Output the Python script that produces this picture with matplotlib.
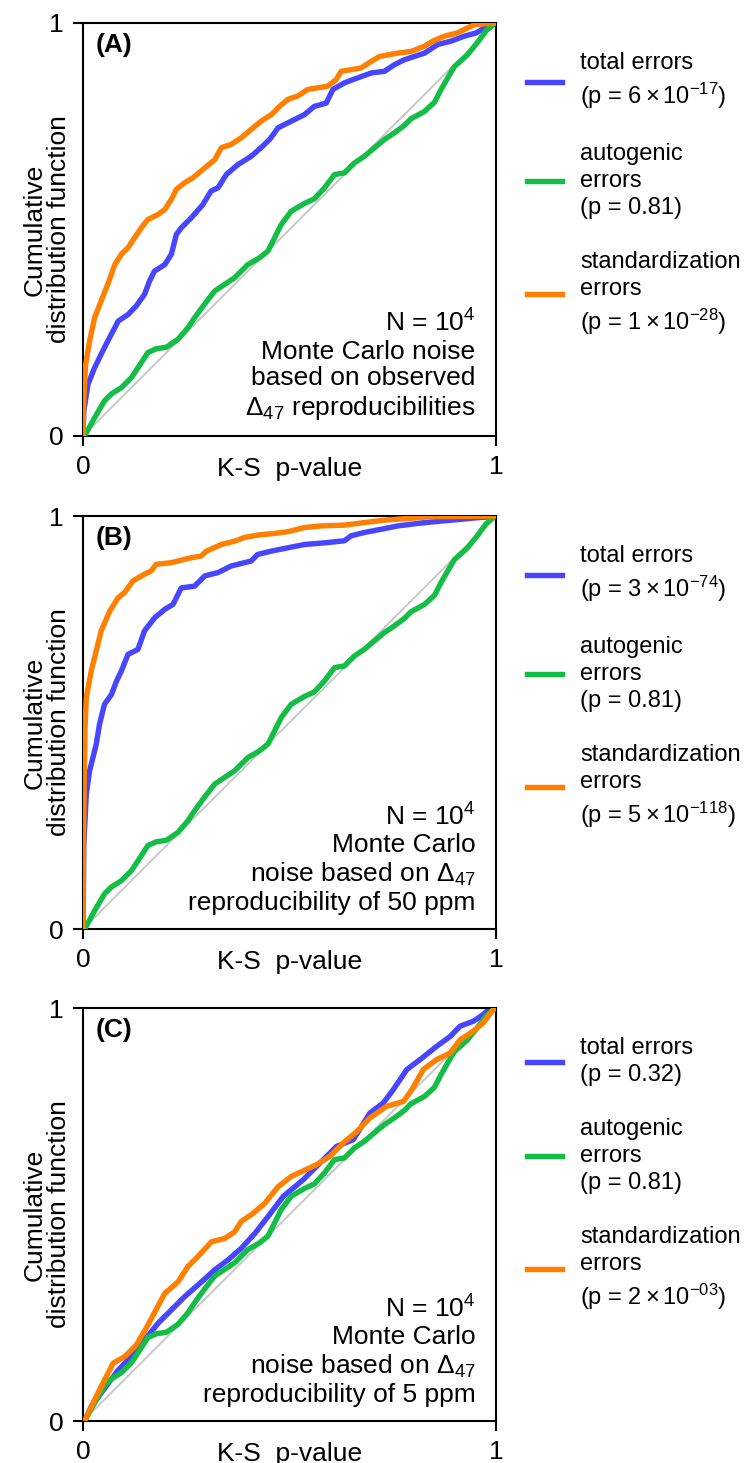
import matplotlib
matplotlib.use("Agg")
import matplotlib.pyplot as plt

plt.rcParams['font.family'] = ['Liberation Sans', 'DejaVu Sans']
plt.rcParams['mathtext.fontset'] = 'custom'
plt.rcParams['mathtext.rm'] = 'Liberation Sans'
plt.rcParams['mathtext.it'] = 'Liberation Sans:italic'
plt.rcParams['mathtext.bf'] = 'Liberation Sans:bold'

# ---- autogenic errors (identical in all three panels) ----
auto_x = [0.004, 0.028, 0.052, 0.069, 0.093, 0.117, 0.133, 0.157, 0.177, 0.202,
          0.230, 0.254, 0.270, 0.294, 0.319, 0.343, 0.367, 0.399, 0.427, 0.448,
          0.464, 0.480, 0.504, 0.536, 0.560, 0.585, 0.609, 0.633, 0.657, 0.681,
          0.706, 0.730, 0.754, 0.778, 0.794, 0.827, 0.851, 0.867, 0.883, 0.899,
          0.931, 0.956, 0.976, 0.996, 1.0]
auto_y = [0.0, 0.044, 0.085, 0.102, 0.117, 0.141, 0.165, 0.202, 0.211, 0.215,
          0.234, 0.262, 0.286, 0.319, 0.351, 0.367, 0.383, 0.415, 0.431, 0.448,
          0.480, 0.512, 0.544, 0.563, 0.574, 0.601, 0.633, 0.637, 0.661, 0.677,
          0.698, 0.718, 0.734, 0.752, 0.768, 0.786, 0.808, 0.839, 0.867, 0.894,
          0.923, 0.954, 0.981, 0.998, 1.0]

# ---- panel A: observed reproducibilities ----
a_total_x = [0.0, 0.002, 0.012, 0.028, 0.044, 0.060, 0.077, 0.085, 0.109, 0.129,
             0.149, 0.161, 0.173, 0.198, 0.214, 0.226, 0.238, 0.262, 0.290, 0.310,
             0.327, 0.347, 0.375, 0.407, 0.431, 0.452, 0.472, 0.504, 0.536, 0.560,
             0.589, 0.605, 0.633, 0.665, 0.698, 0.730, 0.754, 0.778, 0.827, 0.859,
             0.891, 0.923, 0.952, 0.972, 1.0]
a_total_y = [0.0, 0.060, 0.125, 0.165, 0.198, 0.230, 0.262, 0.278, 0.294, 0.315,
             0.343, 0.375, 0.399, 0.415, 0.440, 0.488, 0.504, 0.528, 0.560, 0.593,
             0.601, 0.633, 0.657, 0.677, 0.698, 0.718, 0.746, 0.762, 0.778, 0.798,
             0.806, 0.839, 0.855, 0.867, 0.879, 0.883, 0.899, 0.911, 0.927, 0.948,
             0.956, 0.968, 0.976, 0.988, 1.0]
a_std_x = [0.0, 0.002, 0.006, 0.016, 0.028, 0.044, 0.060, 0.077, 0.093, 0.109,
           0.125, 0.141, 0.157, 0.181, 0.198, 0.214, 0.226, 0.246, 0.266, 0.290,
           0.319, 0.335, 0.359, 0.383, 0.407, 0.431, 0.456, 0.476, 0.496, 0.520,
           0.544, 0.593, 0.613, 0.625, 0.673, 0.698, 0.718, 0.762, 0.794, 0.827,
           0.847, 0.875, 0.907, 0.931, 0.948, 1.0]
a_std_y = [0.0, 0.090, 0.170, 0.230, 0.286, 0.327, 0.367, 0.415, 0.440, 0.456,
           0.480, 0.504, 0.524, 0.536, 0.548, 0.573, 0.597, 0.613, 0.625, 0.645,
           0.669, 0.698, 0.706, 0.722, 0.742, 0.762, 0.778, 0.798, 0.815, 0.823,
           0.839, 0.847, 0.863, 0.883, 0.891, 0.907, 0.919, 0.927, 0.931, 0.944,
           0.956, 0.968, 0.976, 0.988, 0.996, 1.0]

# ---- panel B: 50 ppm reproducibility ----
b_total_x = [0.0, 0.001, 0.002, 0.008, 0.016, 0.032, 0.040, 0.052, 0.069, 0.081,
             0.093, 0.109, 0.133, 0.149, 0.174, 0.198, 0.218, 0.238, 0.270, 0.295,
             0.327, 0.359, 0.375, 0.407, 0.423, 0.456, 0.496, 0.536, 0.585, 0.633,
             0.649, 0.681, 0.722, 0.762, 0.810, 0.859, 0.915, 0.956, 0.988, 1.0]
b_total_y = [0.0, 0.085, 0.205, 0.326, 0.383, 0.447, 0.496, 0.544, 0.568, 0.600,
             0.625, 0.665, 0.677, 0.722, 0.754, 0.774, 0.786, 0.826, 0.830, 0.855,
             0.863, 0.879, 0.883, 0.891, 0.907, 0.915, 0.923, 0.931, 0.935, 0.940,
             0.952, 0.960, 0.968, 0.976, 0.982, 0.987, 0.992, 0.996, 0.998, 1.0]
b_std_x = [0.0, 0.001, 0.003, 0.005, 0.008, 0.020, 0.032, 0.044, 0.065, 0.085,
           0.101, 0.121, 0.149, 0.165, 0.177, 0.214, 0.262, 0.286, 0.299, 0.335,
           0.367, 0.391, 0.423, 0.456, 0.496, 0.536, 0.577, 0.633, 0.681, 0.730,
           0.786, 0.835, 1.0]
b_std_y = [0.0, 0.200, 0.370, 0.490, 0.560, 0.625, 0.673, 0.722, 0.770, 0.802,
           0.815, 0.843, 0.859, 0.867, 0.883, 0.887, 0.899, 0.903, 0.915, 0.931,
           0.939, 0.948, 0.954, 0.957, 0.962, 0.972, 0.976, 0.978, 0.984, 0.990,
           0.994, 0.998, 1.0]

# ---- panel C: 5 ppm reproducibility ----
c_total_x = [0.004, 0.020, 0.061, 0.085, 0.117, 0.149, 0.182, 0.214, 0.246, 0.278,
             0.319, 0.351, 0.383, 0.416, 0.448, 0.485, 0.533, 0.574, 0.614, 0.654,
             0.695, 0.727, 0.751, 0.784, 0.816, 0.856, 0.889, 0.913, 0.945, 0.969,
             0.985, 1.0]
c_total_y = [0.0, 0.035, 0.091, 0.123, 0.156, 0.196, 0.237, 0.269, 0.301, 0.329,
             0.366, 0.390, 0.418, 0.454, 0.495, 0.544, 0.584, 0.625, 0.665, 0.681,
             0.746, 0.770, 0.802, 0.851, 0.875, 0.907, 0.931, 0.956, 0.968, 0.984,
             1.0, 1.0]
c_std_x = [0.004, 0.028, 0.052, 0.073, 0.101, 0.129, 0.157, 0.198, 0.230, 0.254,
           0.278, 0.311, 0.343, 0.367, 0.383, 0.412, 0.440, 0.472, 0.504, 0.521,
           0.566, 0.598, 0.630, 0.663, 0.695, 0.735, 0.776, 0.796, 0.824, 0.856,
           0.889, 0.913, 0.945, 0.969, 0.993, 1.0]
c_std_y = [0.0, 0.051, 0.099, 0.140, 0.156, 0.184, 0.232, 0.309, 0.337, 0.374,
           0.398, 0.434, 0.442, 0.458, 0.483, 0.503, 0.527, 0.567, 0.592, 0.600,
           0.621, 0.641, 0.673, 0.701, 0.734, 0.762, 0.774, 0.802, 0.851, 0.875,
           0.891, 0.923, 0.944, 0.964, 0.996, 1.0]

panel_tags = ['(A)', '(B)', '(C)']
total_p = [r'$6\times10^{-17}$', r'$3\times10^{-74}$', '0.32']
auto_p = ['0.81', '0.81', '0.81']
std_p = [r'$1\times10^{-28}$', r'$5\times10^{-118}$', r'$2\times10^{-03}$']
notes = [
    'N = 10$^4$\nMonte Carlo noise\nbased on observed\nΔ$_{47}$ reproducibilities',
    'N = 10$^4$\nMonte Carlo\nnoise based on Δ$_{47}$\nreproducibility of 50 ppm',
    'N = 10$^4$\nMonte Carlo\nnoise based on Δ$_{47}$\nreproducibility of 5 ppm',
]
total_curves = [(a_total_x, a_total_y), (b_total_x, b_total_y), (c_total_x, c_total_y)]
std_curves = [(a_std_x, a_std_y), (b_std_x, b_std_y), (c_std_x, c_std_y)]

BLUE = '#4646ff'
GREEN = '#14bd46'
ORANGE = '#ff8000'
FS = 19
LW = 3.9

fig = plt.figure(figsize=(7.45, 14.63), dpi=100)
ax_left, ax_w, ax_h = 0.1114, 0.5544, 0.2823
bottoms = [0.7020, 0.3650, 0.0287]

for i in range(3):
    ax = fig.add_axes([ax_left, bottoms[i], ax_w, ax_h])
    ax.plot([0, 1], [0, 1], color='#c4c4c4', lw=1.3, zorder=1)
    tx, ty = total_curves[i]
    sx, sy = std_curves[i]
    ax.plot(tx, ty, color=BLUE, lw=LW, zorder=2,
            label='total errors\n(p = ' + total_p[i] + ')')
    ax.plot(auto_x, auto_y, color=GREEN, lw=LW, zorder=3,
            label='autogenic\nerrors\n(p = ' + auto_p[i] + ')')
    ax.plot(sx, sy, color=ORANGE, lw=LW, zorder=4,
            label='standardization\nerrors\n(p = ' + std_p[i] + ')')

    ax.set_xlim(0, 1)
    ax.set_ylim(0, 1)
    ax.set_xticks([0, 1])
    ax.set_yticks([0, 1])
    ax.set_xticklabels(['0', '1'])
    ax.set_yticklabels(['0', '1'])
    ax.tick_params(direction='out', length=7, width=1.5, pad=7, labelsize=FS)
    for sp in ax.spines.values():
        sp.set_linewidth(1.5)

    ax.set_xlabel('K-S  p-value', fontsize=FS)
    ax.xaxis.set_label_coords(0.5, -0.052)
    ax.set_ylabel('Cumulative\ndistribution function', fontsize=FS, linespacing=1.05)
    ax.yaxis.set_label_coords(-0.028, 0.5)

    ax.text(0.03, 0.975, panel_tags[i], transform=ax.transAxes, fontsize=FS,
            fontweight='bold', ha='left', va='top')
    ax.text(0.95, 0.035, notes[i], transform=ax.transAxes, fontsize=FS,
            ha='right', va='bottom', linespacing=1.15)

    leg = ax.legend(loc='upper left', bbox_to_anchor=(1.075, 0.93), frameon=False,
                    fontsize=17, handlelength=1.5, handletextpad=0.75,
                    labelspacing=1.35, borderaxespad=0, borderpad=0)
    for t in leg.get_texts():
        t.set_linespacing(1.3)

fig.savefig('out.png', dpi=100)
